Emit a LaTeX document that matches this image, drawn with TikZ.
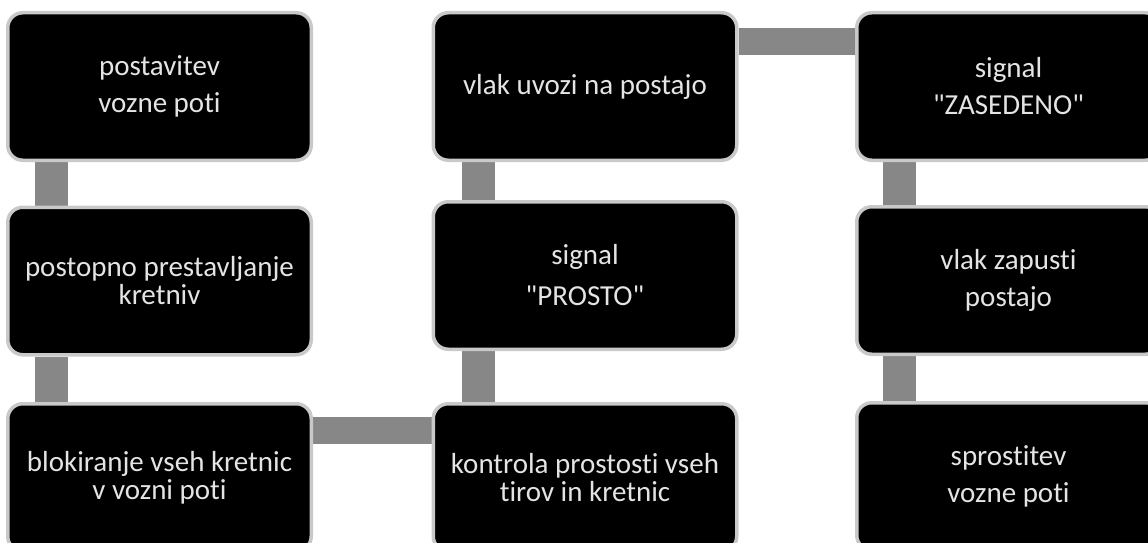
\documentclass[tikz,border=0pt]{standalone}
\usepackage{fontspec}
\setmainfont{Carlito}[Ligatures={TeXOff,CommonOff}]
\usetikzlibrary{calc,backgrounds}
\definecolor{boxrim}{HTML}{C9C9C9}
\definecolor{barfill}{HTML}{878787}
\definecolor{boxtext}{HTML}{E4E4E4}
\tikzset{
  stepbox/.style={draw=boxrim, line width=3.5pt, fill=black, rounded corners=15pt,
    minimum width=303.5pt, minimum height=147.5pt, inner sep=0pt,
    text=boxtext, align=center, font=\fontsize{29}{37}\selectfont},
  tight/.style={font=\fontsize{29}{28}\selectfont},
  loose/.style={font=\fontsize{29}{41}\selectfont},
  vbar/.style={draw=barfill, line width=33pt},
  hbar/.style={draw=barfill, line width=27pt}
}
\begin{document}
\begin{tikzpicture}[x=1pt,y=-1pt]
\useasboundingbox (0,0) rectangle (1148,543);
\clip (0,0) rectangle (1148,543);
% left column
\node[stepbox] (b1) at (159.5,86.5) {postavitev\\vozne poti};
\node[stepbox,tight] (b2) at (159.5,281) {postopno prestavljanje\\kretniv};
\node[stepbox,tight] (b3) at (159.5,477.5) {blokiranje vseh kretnic\\v vozni poti};
% middle column
\node[stepbox] (b4) at (585,86.5) {vlak uvozi na postajo};
\node[stepbox,loose] (b5) at (585,275.5) {signal\\"PROSTO"};
\node[stepbox,tight] (b6) at (585,477.5) {kontrola prostosti vseh\\tirov in kretnic};
% right column
\node[stepbox] (b7) at (1008.5,86.5) {signal\\"ZASEDENO"};
\node[stepbox] (b8) at (1008.5,280.5) {vlak zapusti\\postajo};
\node[stepbox] (b9) at (1008.5,476.5) {sprostitev\\vozne poti};
% connecting bars behind the boxes
\begin{scope}[on background layer]
\draw[vbar] ($(b1.south)+(-108,0)$) -- ($(b2.north)+(-108,0)$);
\draw[vbar] ($(b2.south)+(-108,0)$) -- ($(b3.north)+(-108,0)$);
\draw[hbar] ($(b3.east)+(0,-47.5)$) -- ($(b6.west)+(0,-47.5)$);
\draw[vbar] ($(b6.north)+(-107,0)$) -- ($(b5.south)+(-107,0)$);
\draw[vbar] ($(b5.north)+(-107,0)$) -- ($(b4.south)+(-107,0)$);
\draw[hbar] ($(b4.east)+(0,-45)$) -- ($(b7.west)+(0,-45)$);
\draw[vbar] ($(b7.south)+(-109,0)$) -- ($(b8.north)+(-109,0)$);
\draw[vbar] ($(b8.south)+(-109,0)$) -- ($(b9.north)+(-109,0)$);
\end{scope}
\end{tikzpicture}
\end{document}
